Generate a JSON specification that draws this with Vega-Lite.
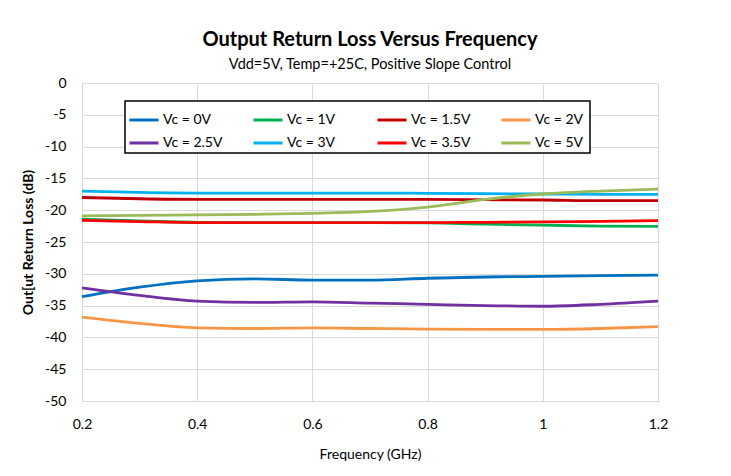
{
  "$schema": "https://vega.github.io/schema/vega-lite/v6.json",
  "width": 576,
  "height": 318,
  "autosize": {"type": "none"},
  "padding": {"left": 82, "top": 83, "right": 73, "bottom": 75},
  "background": "white",
  "title": {
    "text": "Output Return Loss Versus Frequency",
    "subtitle": "Vdd=5V, Temp=+25C, Positive Slope Control",
    "fontSize": 20,
    "fontWeight": "bold",
    "font": "Lato",
    "color": "#000000",
    "subtitleFont": "Lato",
    "subtitleFontSize": 14.5,
    "subtitleColor": "#000000",
    "subtitlePadding": 8,
    "offset": 5,
    "anchor": "middle"
  },
  "config": {
    "view": {"stroke": null},
    "font": "Lato",
    "legend": {"strokeWidth": 1.5},
    "axis": {
      "gridColor": "#D9D9D9",
      "gridWidth": 1,
      "domainColor": "#D9D9D9",
      "domainWidth": 1,
      "ticks": false,
      "labelFontSize": 14,
      "labelColor": "#000000",
      "titleColor": "#000000",
      "labelFont": "Lato",
      "titleFont": "Lato",
      "labelFlush": false
    }
  },
  "data": {
    "values": [
      {"f": 0.2, "vc": "a", "rl": -33.6}, {"f": 0.3, "vc": "a", "rl": -32.1}, {"f": 0.4, "vc": "a", "rl": -31.1}, {"f": 0.5, "vc": "a", "rl": -30.8}, {"f": 0.6, "vc": "a", "rl": -31.0}, {"f": 0.7, "vc": "a", "rl": -31.0}, {"f": 0.8, "vc": "a", "rl": -30.7}, {"f": 0.9, "vc": "a", "rl": -30.5}, {"f": 1.0, "vc": "a", "rl": -30.4}, {"f": 1.1, "vc": "a", "rl": -30.3}, {"f": 1.2, "vc": "a", "rl": -30.2},
      {"f": 0.2, "vc": "b", "rl": -21.4}, {"f": 0.3, "vc": "b", "rl": -21.7}, {"f": 0.4, "vc": "b", "rl": -21.9}, {"f": 0.5, "vc": "b", "rl": -21.95}, {"f": 0.6, "vc": "b", "rl": -21.95}, {"f": 0.7, "vc": "b", "rl": -21.95}, {"f": 0.8, "vc": "b", "rl": -22.0}, {"f": 0.9, "vc": "b", "rl": -22.2}, {"f": 1.0, "vc": "b", "rl": -22.35}, {"f": 1.1, "vc": "b", "rl": -22.5}, {"f": 1.2, "vc": "b", "rl": -22.55},
      {"f": 0.2, "vc": "c", "rl": -18.0}, {"f": 0.3, "vc": "c", "rl": -18.2}, {"f": 0.4, "vc": "c", "rl": -18.3}, {"f": 0.5, "vc": "c", "rl": -18.3}, {"f": 0.6, "vc": "c", "rl": -18.3}, {"f": 0.7, "vc": "c", "rl": -18.3}, {"f": 0.8, "vc": "c", "rl": -18.3}, {"f": 0.9, "vc": "c", "rl": -18.35}, {"f": 1.0, "vc": "c", "rl": -18.4}, {"f": 1.1, "vc": "c", "rl": -18.5}, {"f": 1.2, "vc": "c", "rl": -18.5},
      {"f": 0.2, "vc": "d", "rl": -36.8}, {"f": 0.3, "vc": "d", "rl": -37.8}, {"f": 0.4, "vc": "d", "rl": -38.5}, {"f": 0.5, "vc": "d", "rl": -38.6}, {"f": 0.6, "vc": "d", "rl": -38.5}, {"f": 0.7, "vc": "d", "rl": -38.6}, {"f": 0.8, "vc": "d", "rl": -38.7}, {"f": 0.9, "vc": "d", "rl": -38.75}, {"f": 1.0, "vc": "d", "rl": -38.75}, {"f": 1.1, "vc": "d", "rl": -38.6}, {"f": 1.2, "vc": "d", "rl": -38.3},
      {"f": 0.2, "vc": "e", "rl": -32.2}, {"f": 0.3, "vc": "e", "rl": -33.4}, {"f": 0.4, "vc": "e", "rl": -34.3}, {"f": 0.5, "vc": "e", "rl": -34.5}, {"f": 0.6, "vc": "e", "rl": -34.4}, {"f": 0.7, "vc": "e", "rl": -34.6}, {"f": 0.8, "vc": "e", "rl": -34.8}, {"f": 0.9, "vc": "e", "rl": -35.0}, {"f": 1.0, "vc": "e", "rl": -35.1}, {"f": 1.1, "vc": "e", "rl": -34.8}, {"f": 1.2, "vc": "e", "rl": -34.3},
      {"f": 0.2, "vc": "f", "rl": -17.0}, {"f": 0.3, "vc": "f", "rl": -17.2}, {"f": 0.4, "vc": "f", "rl": -17.3}, {"f": 0.5, "vc": "f", "rl": -17.3}, {"f": 0.6, "vc": "f", "rl": -17.3}, {"f": 0.7, "vc": "f", "rl": -17.3}, {"f": 0.8, "vc": "f", "rl": -17.35}, {"f": 0.9, "vc": "f", "rl": -17.4}, {"f": 1.0, "vc": "f", "rl": -17.45}, {"f": 1.1, "vc": "f", "rl": -17.5}, {"f": 1.2, "vc": "f", "rl": -17.5},
      {"f": 0.2, "vc": "g", "rl": -21.6}, {"f": 0.3, "vc": "g", "rl": -21.8}, {"f": 0.4, "vc": "g", "rl": -21.95}, {"f": 0.5, "vc": "g", "rl": -21.95}, {"f": 0.6, "vc": "g", "rl": -21.95}, {"f": 0.7, "vc": "g", "rl": -21.95}, {"f": 0.8, "vc": "g", "rl": -21.95}, {"f": 0.9, "vc": "g", "rl": -21.9}, {"f": 1.0, "vc": "g", "rl": -21.85}, {"f": 1.1, "vc": "g", "rl": -21.75}, {"f": 1.2, "vc": "g", "rl": -21.65},
      {"f": 0.2, "vc": "h", "rl": -20.9}, {"f": 0.3, "vc": "h", "rl": -20.8}, {"f": 0.4, "vc": "h", "rl": -20.75}, {"f": 0.5, "vc": "h", "rl": -20.65}, {"f": 0.6, "vc": "h", "rl": -20.5}, {"f": 0.7, "vc": "h", "rl": -20.2}, {"f": 0.8, "vc": "h", "rl": -19.5}, {"f": 0.9, "vc": "h", "rl": -18.3}, {"f": 1.0, "vc": "h", "rl": -17.45}, {"f": 1.1, "vc": "h", "rl": -17.0}, {"f": 1.2, "vc": "h", "rl": -16.7}
    ]
  },
  "mark": {"type": "line", "interpolate": "monotone", "strokeWidth": 2.8},
  "encoding": {
    "x": {
      "field": "f", "type": "quantitative",
      "scale": {"domain": [0.2, 1.2], "nice": false, "zero": false},
      "axis": {"values": [0.2, 0.4, 0.6, 0.8, 1.0, 1.2], "labelExpr": "datum.value + ''", "title": "Frequency (GHz)", "titleFontSize": 14, "titleFontWeight": "normal", "labelPadding": 16, "titlePadding": 16}
    },
    "y": {
      "field": "rl", "type": "quantitative",
      "scale": {"domain": [-50, 0], "nice": false},
      "axis": {"values": [0, -5, -10, -15, -20, -25, -30, -35, -40, -45, -50], "labelExpr": "datum.value + ''", "title": "Out[ut Return Loss (dB)", "titleFontSize": 14, "titleFontWeight": "bold", "labelPadding": 16, "titlePadding": 9}
    },
    "color": {
      "field": "vc", "type": "nominal",
      "scale": {
        "domain": ["a", "b", "c", "d", "e", "f", "g", "h"],
        "range": ["#0070C0", "#00B050", "#C00000", "#F79646", "#7030A0", "#00B0F0", "#FF0000", "#9BBB59"]
      },
      "legend": {
        "orient": "none",
        "legendX": 43,
        "legendY": 18,
        "columns": 4,
        "direction": "horizontal",
        "title": null,
        "labelExpr": "{'a': 'Vc =  0V', 'b': 'Vc =  1V', 'c': 'Vc =  1.5V', 'd': 'Vc =  2V', 'e': 'Vc =  2.5V', 'f': 'Vc =  3V', 'g': 'Vc = 3.5V', 'h': 'Vc = 5V'}[datum.value]",
        "strokeColor": "#000000",
        "fillColor": "white",
        "padding": 3,
        "symbolType": "stroke",
        "symbolStrokeWidth": 3,
        "symbolSize": 841,
        "labelFontSize": 14,
        "labelColor": "#000000",
        "labelOffset": 3,
        "columnPadding": 20,
        "rowPadding": -2,
        "gridAlign": "all"
      }
    }
  }
}
